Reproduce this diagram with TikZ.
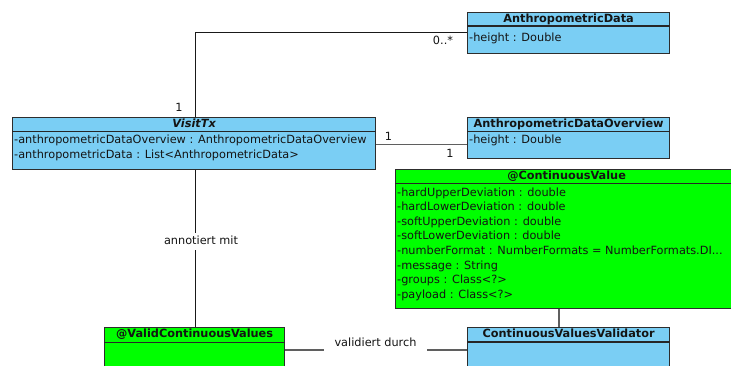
\documentclass[tikz,border=0pt]{standalone}
\usepackage{fontspec}
\setmainfont{DejaVu Sans}
\definecolor{clsblue}{RGB}{122,206,244}
\definecolor{annogreen}{RGB}{0,255,0}
\definecolor{edgecol}{RGB}{45,45,45}
\definecolor{inkcol}{RGB}{20,20,20}
\definecolor{linkgrey}{RGB}{95,95,95}
\newcommand{\umlfont}{\fontsize{11.3}{13}\selectfont}
\begin{document}
\begin{tikzpicture}[x=1pt,y=-1pt,
  classbox/.style={draw=edgecol, line width=1.2pt, anchor=north west, inner sep=0pt},
  divider/.style={draw=black!85, line width=1.3pt},
  classtitle/.style={font=\umlfont\bfseries, text=inkcol, inner sep=0pt, anchor=center,
    text height=8.5pt, text depth=2.5pt},
  attr/.style={font=\umlfont, text=inkcol, inner sep=0pt, anchor=west,
    text height=8.5pt, text depth=2.5pt},
  mult/.style={font=\umlfont, text=inkcol, inner sep=0pt, anchor=center},
  conn/.style={draw=black!90, line width=1pt},
  conngrey/.style={draw=linkgrey, line width=1.2pt},
  edgelabel/.style={font=\umlfont, text=inkcol, fill=white, inner ysep=3pt,
    text height=8.5pt, text depth=2.5pt}
]
\clip (0,0) rectangle (731,365);
\fill[white] (0,0) rectangle (731,365);

% ---- class boxes ----
\node[classbox, fill=clsblue, minimum width=202pt, minimum height=41pt] (ad) at (467,12) {};
\node[classbox, fill=clsblue, minimum width=202pt, minimum height=41pt] (ov) at (467,117) {};
\node[classbox, fill=clsblue, minimum width=363pt, minimum height=51.5pt] (vt) at (12,117) {};
\node[classbox, fill=annogreen, minimum width=342pt, minimum height=139pt] (cv) at (395,169) {};
\node[classbox, fill=clsblue, minimum width=202pt, minimum height=50pt] (cvv) at (467,327) {};
\node[classbox, fill=annogreen, minimum width=180pt, minimum height=50pt] (vcv) at (104,327) {};

% ---- compartment dividers ----
\draw[divider] ([yshift=-14pt]ad.north west) -- ([yshift=-14pt]ad.north east);
\draw[divider] ([yshift=-14.5pt]ov.north west) -- ([yshift=-14.5pt]ov.north east);
\draw[divider] ([yshift=-14.7pt]vt.north west) -- ([yshift=-14.7pt]vt.north east);
\draw[divider] ([yshift=-14.3pt]cv.north west) -- ([yshift=-14.3pt]cv.north east);
\draw[divider] ([yshift=-15pt]cvv.north west) -- ([yshift=-15pt]cvv.north east);
\draw[divider] ([yshift=-15.3pt]vcv.north west) -- ([yshift=-15.3pt]vcv.north east);

% ---- titles ----
\node[classtitle] (adt) at ([yshift=-7pt]ad.north) {AnthropometricData};
\node[classtitle] (ovt) at ([yshift=-7.5pt]ov.north) {AnthropometricDataOverview};
\node[classtitle] (vtt) at ([yshift=-7.3pt]vt.north) {\itshape VisitTx};
\node[classtitle] (cvt) at ([yshift=-7.7pt]cv.north) {@ContinuousValue};
\node[classtitle] (cvvt) at ([yshift=-7.7pt]cvv.north) {ContinuousValuesValidator};
\node[classtitle] (vcvt) at ([yshift=-7.7pt]vcv.north) {@ValidContinuousValues};

% ---- attributes ----
\node[attr] (ad1) at ([xshift=2pt,yshift=-26.3pt]ad.north west) {-height : Double};
\node[attr] (ov1) at ([xshift=2pt,yshift=-23.7pt]ov.north west) {-height : Double};
\node[attr] (vt1) at ([xshift=2pt,yshift=-23.7pt]vt.north west) {-anthropometricDataOverview : AnthropometricDataOverview};
\node[attr] (vt2) at ([xshift=2pt,yshift=-38pt]vt.north west) {-anthropometricData : List<AnthropometricData>};
\foreach \row/\txt in {0/{-hardUpperDeviation : double},
                       1/{-hardLowerDeviation : double},
                       2/{-softUpperDeviation : double},
                       3/{-softLowerDeviation : double},
                       4/{-numberFormat : NumberFormats = NumberFormats.DI...},
                       5/{-message : String},
                       6/{-groups : Class<?>},
                       7/{-payload : Class<?>}}
  \node[attr] (cva\row) at ([xshift=2pt,yshift={-24.3pt-14.55pt*\row}]cv.north west) {\txt};

% ---- connectors ----
\coordinate (bend) at (195.5,32.5);
\draw[conn] (vt.north -| bend) -- (bend) -- (bend -| ad.west);

\coordinate (ovlink) at (420,144.5);
\draw[conngrey] (vt.east |- ovlink) -- (ov.west |- ovlink);

\draw[conn] (vt.south -| bend) -- (vcv.north -| bend);
\node[edgelabel, inner xsep=1pt] (anno) at (201,241) {annotiert mit};

\coordinate (vallink) at (375,350);
\draw[conngrey] (vcv.east |- vallink) -- (cvv.west |- vallink);
\node[edgelabel, inner xsep=11pt] (vald) at (375.5,343) {validiert durch};

\coordinate (cvlink) at (559,318);
\draw[conngrey] (cv.south -| cvlink) -- (cvv.north -| cvlink);

% ---- multiplicities ----
\node[mult] (m1) at (179,107.5) {1};
\node[mult] (m2) at (443,40.7) {0..*};
\node[mult] (m3) at (388.5,136.5) {1};
\node[mult] (m4) at (450,153.5) {1};
\end{tikzpicture}
\end{document}
